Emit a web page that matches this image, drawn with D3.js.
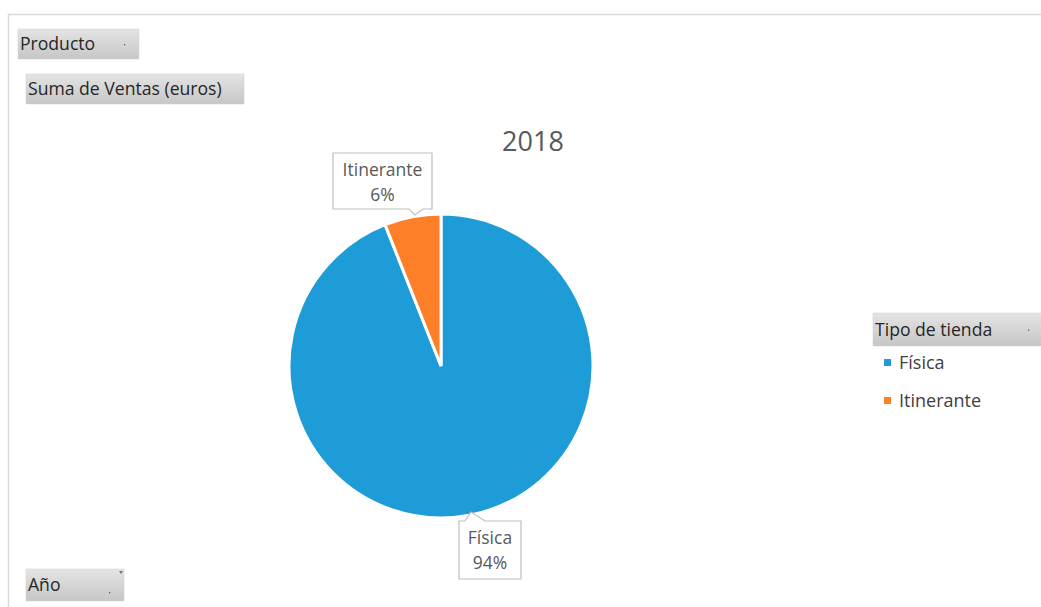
<!DOCTYPE html>
<html><head><meta charset="utf-8">
<script src="https://cdn.jsdelivr.net/npm/d3@7"></script>
<style>
body{margin:0;background:#fff;}
svg{display:block;font-family:"Open Sans","Noto Sans",sans-serif;}
</style></head>
<body>
<svg id="c" width="1041" height="607"></svg>
<script>
const categories = ["Física", "Itinerante"];
const values = [94, 6];
const colors = ["#1E9CD8", "#FD7F28"];
const title = "2018";
const fieldButtons = ["Producto", "Suma de Ventas (euros)", "Año", "Tipo de tienda"];

const svg = d3.select("#c");
const defs = svg.append("defs");
const g = defs.append("linearGradient").attr("id","btn").attr("x1",0).attr("y1",0).attr("x2",0).attr("y2",1);
g.append("stop").attr("offset","0%").attr("stop-color","#e4e4e4");
g.append("stop").attr("offset","100%").attr("stop-color","#c6c6c6");

// chart border
svg.append("path").attr("d","M8.5,607 L8.5,14.5 L1041,14.5").attr("fill","none").attr("stroke","#d9d9d9").attr("stroke-width",1.5);

function button(x,y,w,h,label,opts={}){
  const b = svg.append("g");
  b.append("rect").attr("x",x).attr("y",y).attr("width",w).attr("height",h).attr("fill","url(#btn)").attr("stroke","#d0d0d0").attr("stroke-width",0.5);
  b.append("text").attr("x",x+2).attr("y",y+h/2+6).attr("font-size",17.6).attr("fill","#262626").text(label);
  if(opts.dot!==false){
    b.append("rect").attr("x",x+w-15).attr("y",opts.filter?y+h-9:y+h/2).attr("width",1.2).attr("height",1.2).attr("fill","#555");
  }
  if(opts.filter){
    b.append("path").attr("d",`M${x+w-5},${y+2} l4,0 l-2,3 z`).attr("fill","#777");
  }
}
button(18,29,121,30,fieldButtons[0]);
button(26,74,218,30,fieldButtons[1],{dot:false});
button(26,569,98,32,fieldButtons[2],{filter:true});
button(873,313,170,33,fieldButtons[3]);

// title
svg.append("text").attr("x",533).attr("y",151).attr("text-anchor","middle").attr("font-size",27).attr("fill","#595959").text(title);

// pie
const cx=441, cy=366, r=152;
const pie = d3.pie().sort(null).startAngle(0).endAngle(2*Math.PI);
const arcs = pie(values);
const arc = d3.arc().innerRadius(0).outerRadius(r);
const pg = svg.append("g").attr("transform",`translate(${cx},${cy})`);
pg.selectAll("path").data(arcs).join("path")
  .attr("d",arc).attr("fill",(d,i)=>colors[i]).attr("stroke","#fff").attr("stroke-width",3).attr("stroke-linejoin","miter");

// callouts
const total = d3.sum(values);
function callout(x,y,w,h,px,py,side,lines){
  let d;
  if(side==="bottom"){
    d=`M${x},${y} H${x+w} V${y+h} H${px+8} L${px},${py} L${px-6},${y+h} H${x} Z`;
  } else {
    d=`M${x},${y} H${px} L${px+6},${py} L${px+20},${y} H${x+w} V${y+h} H${x} Z`;
  }
  svg.append("path").attr("d",d).attr("fill","#fff").attr("stroke","#bfbfbf").attr("stroke-width",1.2);
  lines.forEach((t,i)=>{
    svg.append("text").attr("x",x+w/2).attr("y",y+23+i*25).attr("text-anchor","middle").attr("font-size",17.5).attr("fill","#595959").text(t);
  });
}
const pct = values.map(v=>Math.round(v/total*100)+"%");
callout(333,153,99,56,415,215,"bottom",[categories[1],pct[1]]);
callout(459,521,62,58,465,512,"top",[categories[0],pct[0]]);

// legend
const lg = svg.append("g");
categories.forEach((c,i)=>{
  const y = 363 + i*38;
  lg.append("rect").attr("x",884).attr("y",y-4).attr("width",7).attr("height",7).attr("fill",colors[i]);
  lg.append("text").attr("x",899).attr("y",y+6).attr("font-size",18).attr("fill","#404040").text(c);
});
</script>
</body></html>
